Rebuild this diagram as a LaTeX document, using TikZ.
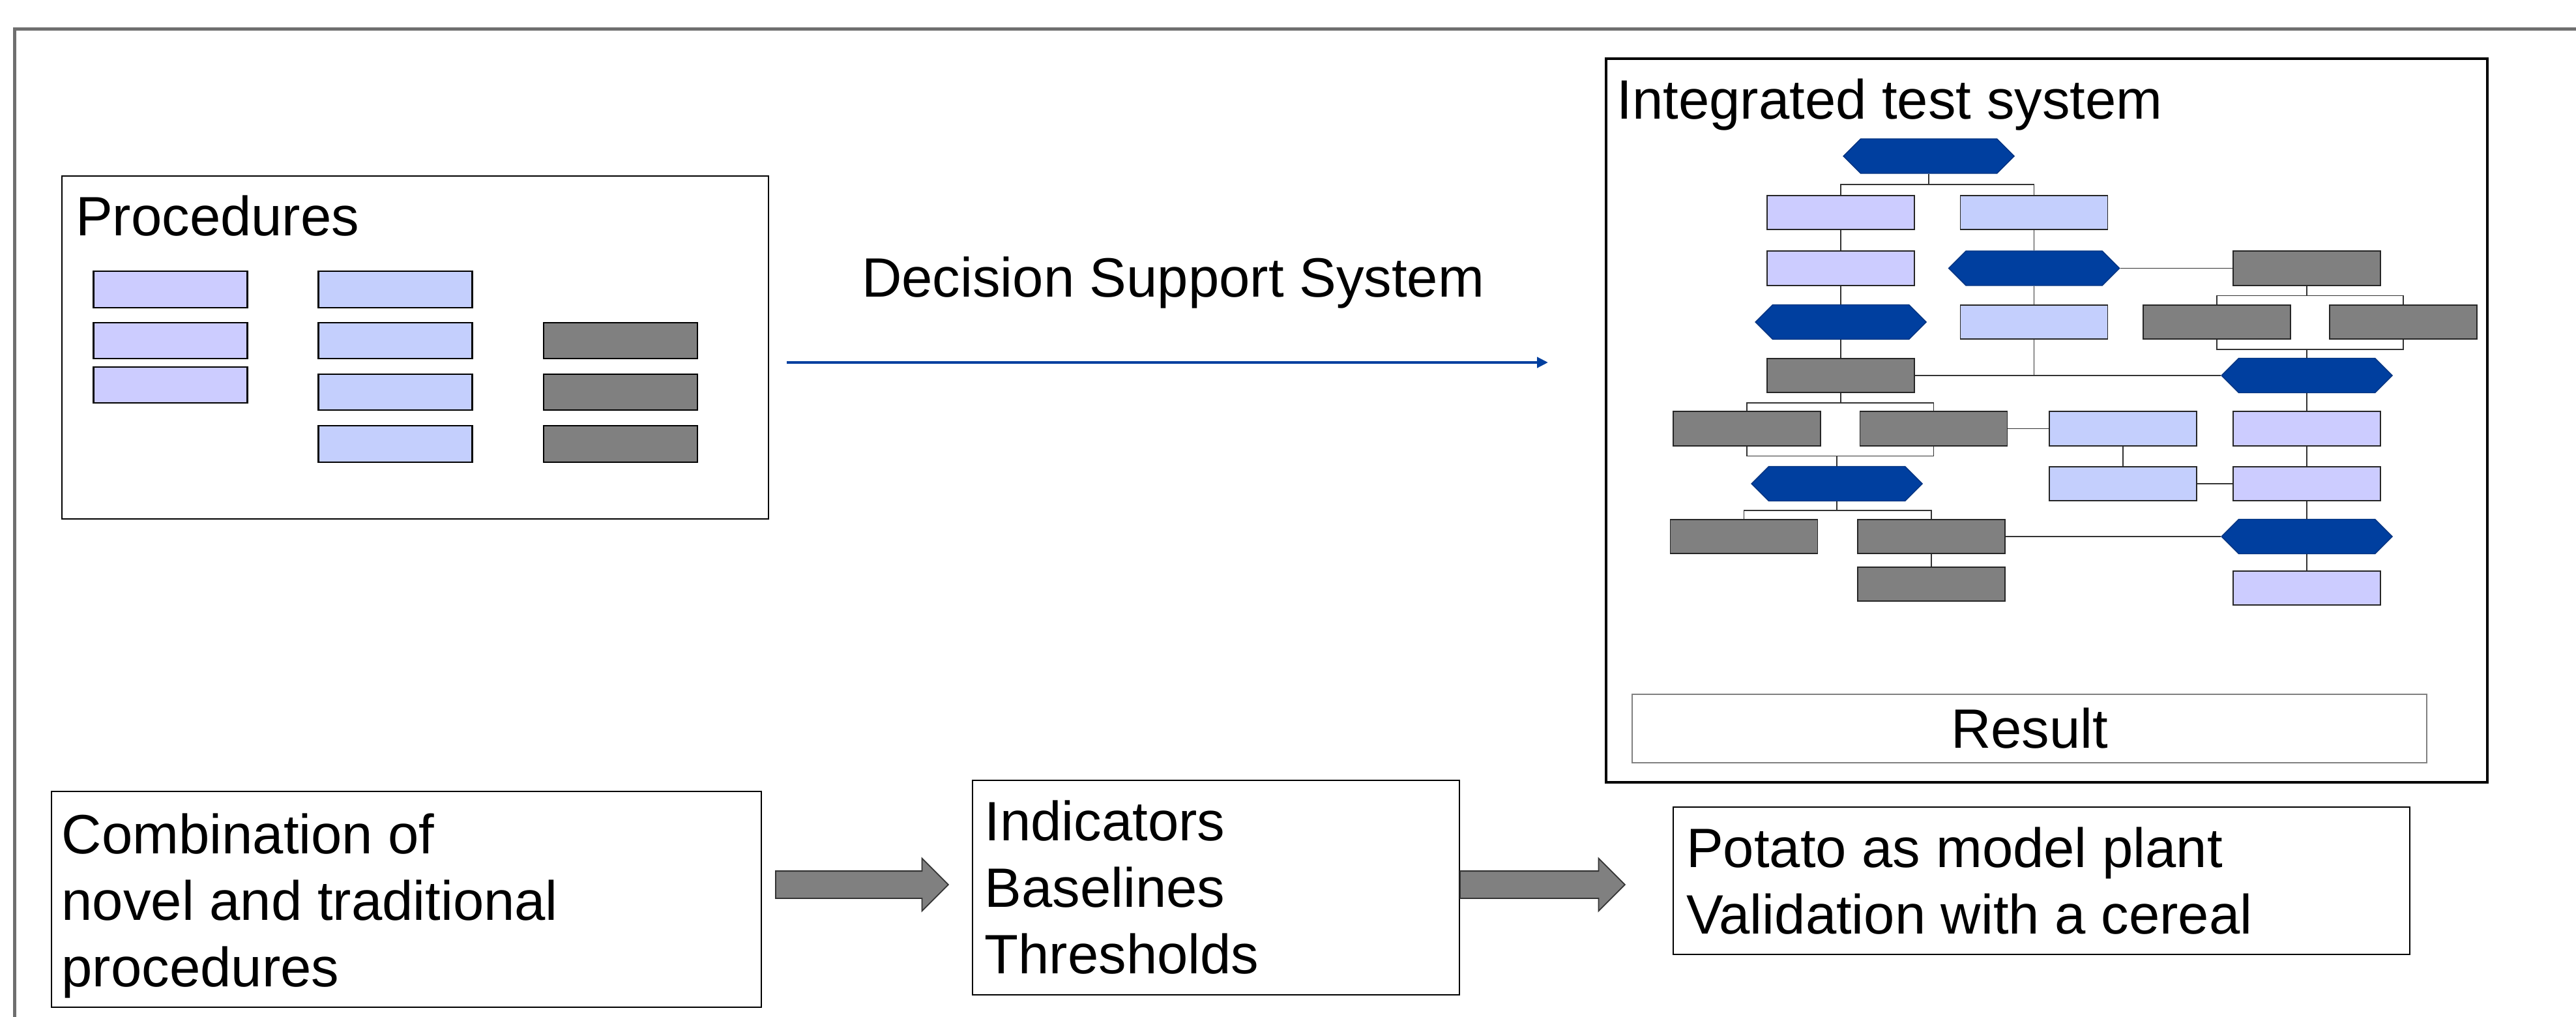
\documentclass[tikz,border=0pt]{standalone}
\usepackage{fontspec}
\setmainfont{Liberation Sans}
\usepackage{tikz}
\usetikzlibrary{arrows.meta,shapes.arrows,shapes.symbols}

\definecolor{itsblue}{HTML}{003F9F}
\definecolor{lavbox}{HTML}{CCCCFF}
\definecolor{skybox}{HTML}{C4CFFD}
\definecolor{midgray}{HTML}{808080}
\definecolor{framegray}{HTML}{6F6F6F}

\tikzset{
  panel/.style={draw=black,line width=0.8pt,fill=white,inner sep=0pt},
  procbox/.style={draw=black,line width=0.6pt,minimum width=2.36cm,minimum height=0.555cm,inner sep=0pt},
  lav/.style={draw=black!85,fill=lavbox,line width=0.5pt,minimum width=2.26cm,minimum height=0.525cm,inner sep=0pt},
  sky/.style={lav,fill=skybox},
  dark/.style={lav,fill=midgray},
  hexb/.style={signal,signal to=east and west,signal pointer angle=90,draw=itsblue!80!black,fill=itsblue,line width=0.4pt,minimum width=2.62cm,minimum height=0.53cm,inner sep=0pt},
  link/.style={black!80,line width=0.5pt},
  label/.style={anchor=base west,inner sep=0pt,font=\fontsize{24.2}{29}\selectfont,align=left},
  blockarrow/.style={single arrow,anchor=tail,draw=black!80,fill=midgray,line width=0.5pt,inner xsep=0pt,inner ysep=0.2cm,single arrow head extend=0.195cm},
}

\begin{document}
\begin{tikzpicture}
\useasboundingbox (0,0) rectangle (39.52,-15.60);

% frame
\draw[framegray,line width=1.4pt] (0.224,-15.60) -- (0.224,-0.445) -- (39.52,-0.445);

% procedures
\node[panel,minimum width=10.84cm,minimum height=5.26cm] (proc) at (6.37,-5.33) {};
\node[label] (proctitle) at (1.155,-3.62) {Procedures};
\node[procbox,fill=lavbox] (pa1) at (2.615,-4.44) {};
\node[procbox,fill=lavbox] (pa2) at (2.615,-5.225) {};
\node[procbox,fill=lavbox] (pa3) at (2.615,-5.905) {};
\node[procbox,fill=skybox] (pb1) at (6.065,-4.44) {};
\node[procbox,fill=skybox] (pb2) at (6.065,-5.225) {};
\node[procbox,fill=skybox] (pb3) at (6.065,-6.015) {};
\node[procbox,fill=skybox] (pb4) at (6.065,-6.81) {};
\node[procbox,fill=midgray] (pc1) at (9.52,-5.225) {};
\node[procbox,fill=midgray] (pc2) at (9.52,-6.015) {};
\node[procbox,fill=midgray] (pc3) at (9.52,-6.81) {};

% decision support system
\node[label] (dss) at (13.215,-4.56) {Decision Support System};
\coordinate (dssA) at (12.07,-5.56);
\coordinate (dssB) at (23.75,-5.56);
\draw[itsblue,line width=1.4pt,-{Triangle[length=0.17cm,width=0.16cm]}] (dssA) -- (dssB);

% integrated test system
\node[panel,line width=1pt,minimum width=13.52cm,minimum height=11.10cm] (its) at (31.40,-6.45) {};
\node[label] (itstitle) at (24.80,-1.83) {Integrated test system};

\node[hexb] (h1) at (29.59,-2.395) {};
\node[lav] (a1) at (28.24,-3.26) {};
\node[sky] (b1) at (31.205,-3.26) {};
\node[lav] (a2) at (28.24,-4.115) {};
\node[hexb] (h2) at (31.205,-4.115) {};
\node[dark] (g1) at (35.39,-4.115) {};
\node[hexb] (h3) at (28.24,-4.94) {};
\node[sky] (b2) at (31.205,-4.94) {};
\node[dark] (g2) at (34.01,-4.94) {};
\node[dark] (g3) at (36.87,-4.94) {};
\node[dark] (g4) at (28.24,-5.76) {};
\node[hexb] (h4) at (35.39,-5.76) {};
\node[dark] (g5) at (26.80,-6.575) {};
\node[dark] (g6) at (29.665,-6.575) {};
\node[sky] (b3) at (32.57,-6.575) {};
\node[lav] (a3) at (35.39,-6.575) {};
\node[hexb] (h5) at (28.18,-7.42) {};
\node[sky] (b4) at (32.57,-7.42) {};
\node[lav] (a4) at (35.39,-7.42) {};
\node[dark] (g7) at (26.755,-8.23) {};
\node[dark] (g8) at (29.63,-8.23) {};
\node[hexb] (h6) at (35.39,-8.23) {};
\node[dark] (g9) at (29.63,-8.96) {};
\node[lav] (a5) at (35.39,-9.02) {};

\draw[link] (h1.south) -- ++(0,-0.16) -| (a1.north);
\draw[link] (h1.south) -- ++(0,-0.16) -| (b1.north);
\draw[link] (a1) -- (a2);
\draw[link] (a2) -- (h3);
\draw[link] (h3) -- (g4);
\draw[link] (b1) -- (h2);
\draw[link] (h2) -- (b2);
\draw[link] (h2) -- (g1);
\draw[link] (g1.south) -- ++(0,-0.15) -| (g2.north);
\draw[link] (g1.south) -- ++(0,-0.15) -| (g3.north);
\draw[link] (g2.south) -- ++(0,-0.15) -| (h4.north);
\draw[link] (g3.south) -- ++(0,-0.15) -| (h4.north);
\draw[link] (g4) -- (h4);
\draw[link] (b2.south) -- (b2.south |- g4.east);
\draw[link] (g4.south) -- ++(0,-0.15) -| (g5.north);
\draw[link] (g4.south) -- ++(0,-0.15) -| (g6.north);
\draw[link] (g6) -- (b3);
\draw[link] (h4) -- (a3);
\draw[link] (g5.south) -- ++(0,-0.15) -| (h5.north);
\draw[link] (g6.south) -- ++(0,-0.15) -| (h5.north);
\draw[link] (b3) -- (b4);
\draw[link] (a3) -- (a4);
\draw[link] (b4) -- (a4);
\draw[link] (h5.south) -- ++(0,-0.14) -| (g7.north);
\draw[link] (h5.south) -- ++(0,-0.14) -| (g8.north);
\draw[link] (g8) -- (h6);
\draw[link] (a4) -- (h6);
\draw[link] (g8) -- (g9);
\draw[link] (h6) -- (a5);

\node[draw=midgray,line width=0.7pt,minimum width=12.19cm,minimum height=1.05cm,font=\fontsize{24.2}{29}\selectfont] (result) at (31.135,-11.175) {Result};

% bottom row
\node[panel,minimum width=10.89cm,minimum height=3.31cm] (comb) at (6.235,-13.795) {};
\node[label] (combtext) at (0.94,-15.13) {Combination of\\novel and traditional\\procedures};
\node[panel,minimum width=7.47cm,minimum height=3.29cm] (ind) at (18.655,-13.615) {};
\node[label] (indtext) at (15.10,-14.93) {Indicators\\Baselines\\Thresholds};
\node[panel,minimum width=11.30cm,minimum height=2.26cm] (pot) at (31.32,-13.51) {};
\node[label] (pottext) at (25.865,-14.32) {Potato as model plant\\Validation with a cereal};

\node[blockarrow,minimum height=2.65cm] (arr1) at (11.89,-13.57) {};
\node[blockarrow,minimum height=2.53cm] (arr2) at (22.39,-13.57) {};
\end{tikzpicture}
\end{document}
